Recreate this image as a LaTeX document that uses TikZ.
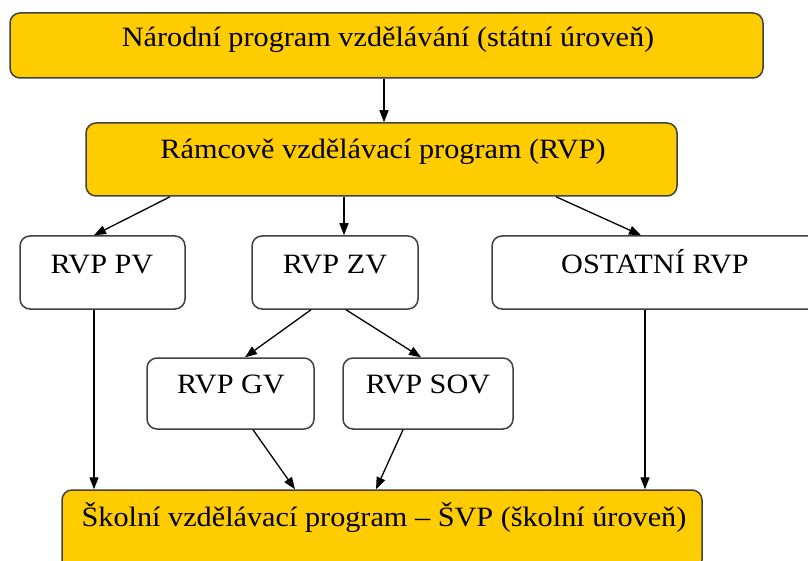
\documentclass[tikz,border=0pt]{standalone}
\usepackage{fontspec}
\setmainfont{Liberation Serif}
\usetikzlibrary{arrows.meta}
\definecolor{gold}{HTML}{FFCC00}
\definecolor{edge}{HTML}{404040}
\newcommand\widetext[1]{\scalebox{1.08}[1]{#1}}
\tikzset{
  box/.style={draw=edge, line width=1.5pt, rounded corners=10pt, inner sep=0pt, anchor=center},
  goldbox/.style={box, fill=gold},
  whitebox/.style={box, fill=white},
  lbl/.style={anchor=base, inner sep=0pt, font=\fontsize{28}{34}\selectfont},
  arr/.style={line width=1.3pt, -{Triangle[length=12pt,width=9pt]}}
}
\begin{document}
\begin{tikzpicture}[x=1pt,y=-1pt]
\useasboundingbox (0,0) rectangle (808,561);
\clip (0,0) rectangle (808,561);
% boxes
\node[goldbox, minimum width=753, minimum height=65] (top) at (386.5,45.5) {};
\node[goldbox, minimum width=591, minimum height=73] (rvp) at (381.5,159.5) {};
\node[whitebox, minimum width=165, minimum height=73] (pv) at (102.5,272.5) {};
\node[whitebox, minimum width=166, minimum height=73] (zv) at (335,272.5) {};
\node[whitebox, minimum width=326, minimum height=73] (ost) at (655,272.5) {};
\node[whitebox, minimum width=167, minimum height=71] (gv) at (230.5,393.5) {};
\node[whitebox, minimum width=170, minimum height=71] (sov) at (428,393.5) {};
\node[goldbox, minimum width=640, minimum height=80] (bot) at (382,530) {};
% texts
\node[lbl] (toptx) at (388,47) {\widetext{Národní program vzdělávání (státní úroveň)}};
\node[lbl] (rvptx) at (383,159) {\widetext{Rámcově vzdělávací program (RVP)}};
\node[lbl] (pvtx) at (102,273) {\widetext{RVP PV}};
\node[lbl] (zvtx) at (335,273) {\widetext{RVP ZV}};
\node[lbl] (osttx) at (655,273) {\widetext{OSTATNÍ RVP}};
\node[lbl] (gvtx) at (231,393) {\widetext{RVP GV}};
\node[lbl] (sovtx) at (428,393) {\widetext{RVP SOV}};
\node[lbl] (bottx) at (384,526) {\widetext{Školní vzdělávací program – ŠVP (školní úroveň)}};
% connectors
\draw[arr] ([xshift=-2.5]top.south) -- ([xshift=2.5]rvp.north);
\draw[arr] ([xshift=-211.5]rvp.south) -- ([xshift=-8.5]pv.north);
\draw[arr] ([xshift=-37.5]rvp.south) -- ([xshift=9]zv.north);
\draw[arr] ([xshift=174.5]rvp.south) -- ([xshift=-14]ost.north);
\draw[arr] ([xshift=-24]zv.south) -- ([xshift=14.5]gv.north);
\draw[arr] ([xshift=11]zv.south) -- ([xshift=-7]sov.north);
\draw[arr] ([xshift=-8.5]pv.south) -- ([xshift=-288]bot.north);
\draw[arr] ([xshift=22.5]gv.south) -- ([xshift=-87]bot.north);
\draw[arr] ([xshift=-25]sov.south) -- ([xshift=-6]bot.north);
\draw[arr] ([xshift=-10]ost.south) -- ([xshift=263]bot.north);
\end{tikzpicture}
\end{document}
